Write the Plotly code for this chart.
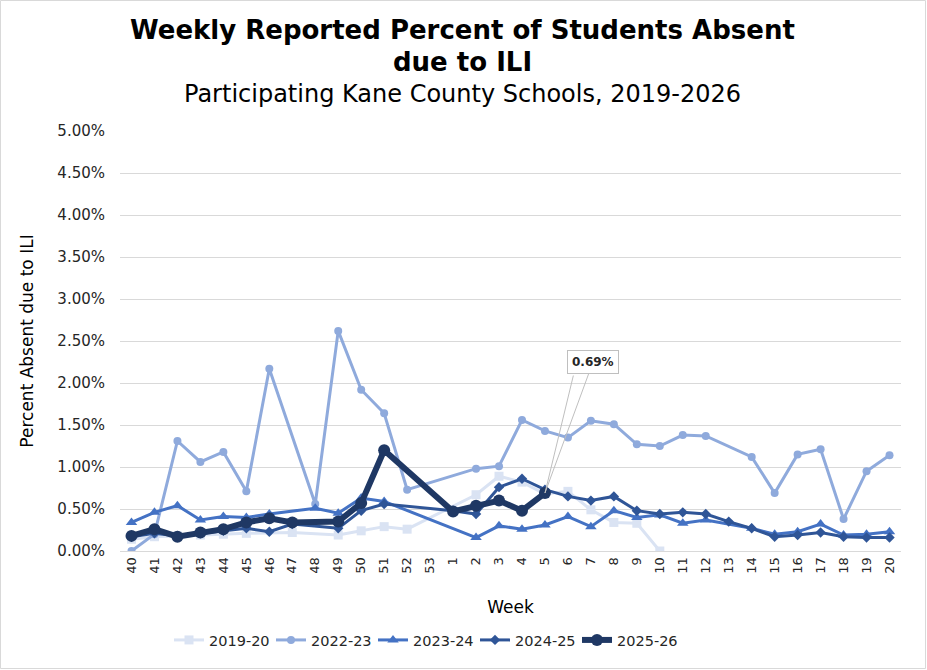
import plotly.graph_objects as go

weeks = [str(w) for w in list(range(40, 54)) + list(range(1, 21))]

s2019_20 = [0.14, 0.17, 0.18, 0.19, 0.20, 0.21, None, 0.22, None, 0.19, 0.24, 0.29, 0.26, None,
            None, 0.67, 0.89, 0.82, 0.68, 0.71, 0.49, 0.34, 0.33, 0.00,
            None, None, None, None, None, None, None, None, None, None]
s2022_23 = [0.00, 0.20, 1.31, 1.06, 1.18, 0.71, 2.17, None, 0.56, 2.62, 1.92, 1.64, 0.73, None,
            None, 0.98, 1.01, 1.56, 1.43, 1.35, 1.55, 1.51, 1.27, 1.25,
            1.38, 1.37, None, 1.12, 0.69, 1.15, 1.21, 0.38, 0.95, 1.14]
s2023_24 = [0.34, 0.46, 0.54, 0.37, 0.41, 0.40, 0.44, None, 0.51, 0.45, 0.63, 0.59, None, None,
            None, 0.16, 0.30, 0.26, 0.31, 0.41, 0.29, 0.48, 0.40, 0.43,
            0.33, 0.37, None, 0.27, 0.20, 0.23, 0.32, 0.19, 0.20, 0.23]
s2024_25 = [0.17, 0.21, 0.18, 0.21, 0.24, 0.27, 0.23, 0.32, None, 0.27, 0.48, 0.56, None, None,
            0.48, 0.44, 0.76, 0.86, 0.73, 0.65, 0.60, 0.65, 0.48, 0.44,
            0.46, 0.44, 0.35, 0.27, 0.17, 0.19, 0.22, 0.17, 0.16, 0.16]
s2025_26 = [0.18, 0.26, 0.17, 0.22, 0.26, 0.34, 0.39, 0.34, None, 0.35, 0.57, 1.20, None, None,
            0.47, 0.54, 0.60, 0.48, 0.69,
            None, None, None, None, None, None, None, None, None, None, None, None, None, None, None]

series_names = ["2019-20", "2022-23", "2023-24", "2024-25", "2025-26"]
series_values = [s2019_20, s2022_23, s2023_24, s2024_25, s2025_26]
colors = ["#dae3f3", "#8faadc", "#4472c4", "#2f5597", "#1f3864"]
symbols = ["square", "circle", "triangle-up", "diamond", "circle"]
line_widths = [3, 3, 3, 3, 6]
marker_sizes = [9, 8, 10, 8, 12]

FONT = "DejaVu Sans"
W, H = 927, 670
ML, MR, MT, MB = 120, 26, 131, 119
PW, PH = W - ML - MR, H - MT - MB


def px_y(y_pix):
    """convert a pixel row (from top of figure) to paper y"""
    return (H - MB - y_pix) / PH


def px_x(x_pix):
    return (x_pix - ML) / PW


fig = go.Figure()
for name, vals, c, sym, lw, ms in zip(series_names, series_values, colors, symbols, line_widths, marker_sizes):
    fig.add_trace(go.Scatter(
        x=weeks, y=vals, name=name, mode="lines+markers", connectgaps=True,
        line=dict(color=c, width=lw),
        marker=dict(symbol=sym, size=ms, color=c),
    ))

# label for latest value (category axis: use the category index)
last_idx = max(i for i, v in enumerate(s2025_26) if v is not None)
last_val = s2025_26[last_idx]
fig.add_annotation(x=last_idx, y=last_val, xref="x", yref="y",
                   text="<b>%.2f%%</b>" % last_val, showarrow=True, arrowhead=0,
                   arrowcolor="#bfbfbf", arrowwidth=1, ax=48, ay=-131, standoff=0,
                   bgcolor="white", bordercolor="#bfbfbf", borderwidth=1, borderpad=4,
                   font=dict(family=FONT, size=12, color="#262626"))
fig.add_annotation(x=last_idx, y=last_val, xref="x", yref="y",
                   text=" ", showarrow=True, arrowhead=0,
                   arrowcolor="#bfbfbf", arrowwidth=1, ax=29, ay=-120, standoff=0,
                   font=dict(family=FONT, size=2))

# titles
fig.add_annotation(text="<b>Weekly Reported Percent of Students Absent</b>",
                   xref="paper", yref="paper", x=px_x(462), y=px_y(30),
                   showarrow=False, xanchor="center", yanchor="middle",
                   font=dict(family=FONT, size=26, color="black"))
fig.add_annotation(text="<b>due to ILI</b>",
                   xref="paper", yref="paper", x=px_x(462), y=px_y(62),
                   showarrow=False, xanchor="center", yanchor="middle",
                   font=dict(family=FONT, size=26, color="black"))
fig.add_annotation(text="Participating Kane County Schools, 2019-2026",
                   xref="paper", yref="paper", x=px_x(462), y=px_y(94),
                   showarrow=False, xanchor="center", yanchor="middle",
                   font=dict(family=FONT, size=24, color="black"))

# chart border
fig.add_shape(type="rect", xref="paper", yref="paper",
              x0=px_x(0.5), x1=px_x(W - 1.5), y0=px_y(H - 1.5), y1=px_y(0.5),
              line=dict(color="#d9d9d9", width=1), fillcolor="rgba(0,0,0,0)", layer="below")

fig.update_layout(
    width=W, height=H,
    margin=dict(l=ML, r=MR, t=MT, b=MB, pad=0, autoexpand=False),
    paper_bgcolor="white", plot_bgcolor="white",
    font=dict(family=FONT, color="#262626"),
    showlegend=True,
    legend=dict(orientation="h", x=px_x(424), xanchor="center",
                y=px_y(640), yanchor="middle",
                font=dict(family=FONT, size=14.5, color="#262626"),
                itemwidth=30, entrywidth=57, entrywidthmode="pixels", tracegroupgap=0),
    xaxis=dict(type="category", tickangle=-90, showgrid=False, showline=True,
               linecolor="#d9d9d9", linewidth=1, ticks="",
               tickfont=dict(family=FONT, size=13, color="#262626"),
               title=dict(text="Week", font=dict(family=FONT, size=17, color="black"), standoff=28),
               range=[-0.5, len(weeks) - 0.5]),
    yaxis=dict(range=[0, 5], dtick=0.5, tickformat=".2f", ticksuffix="%",
               showgrid=True, gridcolor="#d9d9d9", gridwidth=1, zeroline=False,
               ticks="", ticklabelstandoff=14,
               tickfont=dict(family=FONT, size=15, color="#262626"),
               title=dict(text="Percent Absent due to ILI",
                          font=dict(family=FONT, size=17, color="black"), standoff=19)),
)

fig.write_html("out.html", config={"displayModeBar": False},
               post_script="document.body.style.margin='0';document.body.style.overflow='hidden';")
